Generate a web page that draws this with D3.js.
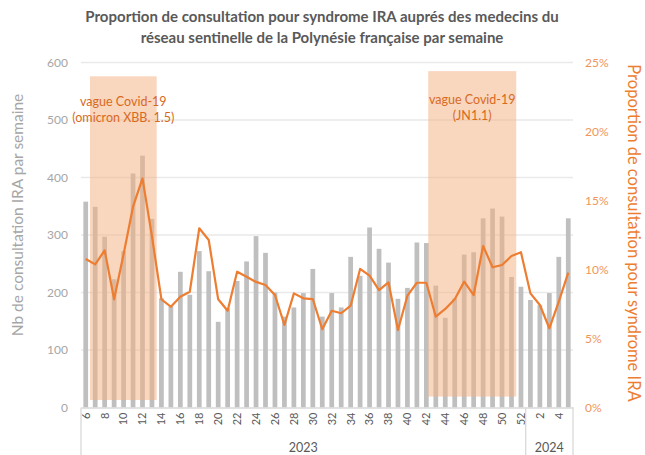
<!DOCTYPE html>
<html>
<head>
<meta charset="utf-8">
<script src="https://cdn.jsdelivr.net/npm/d3@7"></script>
<style>
  html, body { margin: 0; padding: 0; background: #fff; }
  svg { display: block; }
  text { font-family: Lato, "Open Sans", sans-serif; }
</style>
</head>
<body>
<svg id="chart" width="645" height="455"></svg>
<script>
// ---------------- DATA ----------------
const titleLines = [
  "Proportion de consultation pour syndrome IRA auprés des medecins du",
  "réseau sentinelle de la Polynésie française par semaine"
];
const weeks2023 = [6,7,8,9,10,11,12,13,14,15,16,17,18,19,20,21,22,23,24,25,26,27,28,29,30,31,32,33,34,35,36,37,38,39,40,41,42,43,44,45,46,47,48,49,50,51,52];
const weeks2024 = [1,2,3,4,5];
const yearLabels = ["2023", "2024"];

const consultCounts = [
  358, 349, 297, 223, 272, 407, 438, 328, 190, 176, 236, 196, 272, 237, 149, 172, 220, 254, 298, 269,
  200, 158, 174, 199, 241, 158, 199, 174, 262, 229, 313, 276, 252, 189, 208, 287, 286, 212, 156, 190,
  266, 270, 329, 346, 332, 227, 210,
  187, 178, 199, 262, 329
];
const proportionPct = [
  10.76, 10.37, 11.39, 7.84, 11.1, 14.55, 16.6, 12.4, 7.84, 7.3, 8.03, 8.39, 12.99, 12.14, 7.84, 7.01, 9.84, 9.48, 9.1, 8.88,
  8.15, 5.98, 8.27, 7.91, 7.86, 5.67, 7.01, 6.83, 7.38, 10.04, 9.55, 8.51, 9.07, 5.62, 8.1, 9.04, 9.04, 6.58, 7.14, 7.84,
  9.12, 8.15, 11.7, 10.16, 10.33, 10.98, 11.25,
  8.27, 7.43, 5.74, 7.67, 9.77
];
const leftTicks = [0, 100, 200, 300, 400, 500, 600];
const rightTicks = [0, 5, 10, 15, 20, 25];

// highlighted waves: extents in category-index units and left-axis value units
const waveStartIdx = [0.95, 36.7];
const waveEndIdx   = [8.0, 46.0];
const waveTopVal   = [576, 585];
const waveBottomVal= [13, 19];
const waveLabels   = [["vague Covid-19", "(omicron XBB. 1.5)"], ["vague Covid-19", "(JN1.1)"]];
const waveLabelVal = [525, 527];

const leftTitle = "Nb de consultation IRA par semaine";
const rightTitle = "Proportion de consultation pour syndrome IRA";

// ---------------- BUILD ----------------
const cats = [];
weeks2023.forEach(w => cats.push({ key: "2023-" + w, week: w, year: "2023" }));
weeks2024.forEach(w => cats.push({ key: "2024-" + w, week: w, year: "2024" }));
cats.forEach((c, i) => { c.count = consultCounts[i]; c.pct = proportionPct[i]; c.idx = i; });

const W = 645, H = 455;
const m = { top: 62.5, right: 72, bottom: 47.5, left: 81 };
const svg = d3.select("#chart");

const x = d3.scaleBand().domain(cats.map(c => c.key))
  .range([m.left, W - m.right]).paddingInner(0.5).paddingOuter(0.25);
const xIdx = d3.scaleLinear().domain([0, cats.length]).range([m.left, W - m.right]);
const yL = d3.scaleLinear().domain([0, 600]).range([H - m.bottom, m.top]);
const yR = d3.scaleLinear().domain([0, 25]).range([H - m.bottom, m.top]);

const orange = "#ED7D31";
const grayText = "#A6A6A6";

// title
svg.append("g").selectAll("text").data(titleLines).join("text")
  .attr("x", 322).attr("y", (d, i) => 22 + i * 21)
  .attr("text-anchor", "middle")
  .attr("font-size", 15).attr("font-weight", "bold").attr("fill", "#595959")
  .text(d => d);

// gridlines
svg.append("g").selectAll("line").data(leftTicks.filter(t => t > 0)).join("line")
  .attr("x1", m.left).attr("x2", W - m.right)
  .attr("y1", d => yL(d)).attr("y2", d => yL(d))
  .attr("stroke", "#E9E9E9").attr("stroke-width", 1.3);

// bars
svg.append("g").selectAll("rect").data(cats).join("rect")
  .attr("x", d => x(d.key)).attr("width", x.bandwidth())
  .attr("y", d => yL(d.count)).attr("height", d => yL(0) - yL(d.count))
  .attr("fill", "#BFBFBF");

// highlight boxes
const waves = waveStartIdx.map((s, i) => ({ s, e: waveEndIdx[i], top: waveTopVal[i], bot: waveBottomVal[i], lab: waveLabels[i], ly: waveLabelVal[i] }));
svg.append("g").selectAll("rect").data(waves).join("rect")
  .attr("x", d => xIdx(d.s)).attr("width", d => xIdx(d.e) - xIdx(d.s))
  .attr("y", d => yL(d.top)).attr("height", d => yL(d.bot) - yL(d.top))
  .attr("fill", "#F4B183").attr("fill-opacity", 0.52);

// line
const line = d3.line().x(d => x(d.key) + x.bandwidth() / 2).y(d => yR(d.pct));
svg.append("path").datum(cats).attr("d", line)
  .attr("fill", "none").attr("stroke", orange).attr("stroke-width", 2.2)
  .attr("stroke-linejoin", "round");

// wave labels
const wl = svg.append("g").selectAll("text").data(waves).join("text")
  .attr("text-anchor", "middle").attr("font-size", 12.5).attr("fill", "#D86A1E");
wl.each(function(d) {
  const cx = (xIdx(d.s) + xIdx(d.e)) / 2;
  d3.select(this).selectAll("tspan").data(d.lab).join("tspan")
    .attr("x", cx).attr("y", (t, i) => yL(d.ly) + i * 16).text(t => t);
});

// left axis
const axL = svg.append("g").attr("transform", `translate(${m.left},0)`)
  .call(d3.axisLeft(yL).tickValues(leftTicks).tickSize(0).tickPadding(13));
axL.select(".domain").remove();
axL.selectAll("text").attr("fill", grayText).attr("font-size", 12).attr("font-family", "Lato, sans-serif");

// right axis
const axR = svg.append("g").attr("transform", `translate(${W - m.right},0)`)
  .call(d3.axisRight(yR).tickValues(rightTicks).tickFormat(d => d + "%").tickSize(0).tickPadding(12));
axR.select(".domain").remove();
axR.selectAll("text").attr("fill", "#F0955A").attr("font-size", 12).attr("font-family", "Lato, sans-serif");

// bottom axis
const evenCats = cats.filter(c => c.week % 2 === 0).map(c => c.key);
const axB = svg.append("g").attr("transform", `translate(0,${yL(0)})`)
  .call(d3.axisBottom(x).tickValues(evenCats).tickFormat(k => k.split("-")[1]).tickSize(0));
axB.select(".domain").attr("stroke", "#D9D9D9").attr("stroke-width", 1.3);
axB.selectAll("text")
  .attr("transform", "rotate(-90)")
  .attr("x", -5).attr("y", 0).attr("dy", "0.35em")
  .attr("text-anchor", "end")
  .attr("fill", "#595959").attr("font-size", 11).attr("font-family", "Lato, sans-serif");

// year group separators & labels
const half = (x.step() - x.bandwidth()) / 2;
const groups = yearLabels.map(yr => {
  const g = cats.filter(c => c.year === yr);
  return { yr, x0: x(g[0].key) - half, x1: x(g[g.length - 1].key) + x.bandwidth() + half };
});
const seps = [groups[0].x0].concat(groups.map(g => g.x1));
svg.append("g").selectAll("line").data(seps).join("line")
  .attr("x1", d => d).attr("x2", d => d)
  .attr("y1", yL(0)).attr("y2", H)
  .attr("stroke", "#D9D9D9").attr("stroke-width", 1.3);
svg.append("g").selectAll("text").data(groups).join("text")
  .attr("x", d => (d.x0 + d.x1) / 2).attr("y", 452)
  .attr("text-anchor", "middle").attr("font-size", 12.5).attr("fill", "#595959")
  .text(d => d.yr);

// axis titles
svg.append("text")
  .attr("transform", `translate(23,215) rotate(-90)`)
  .attr("text-anchor", "middle").attr("font-size", 15.5).attr("fill", grayText)
  .text(leftTitle);
svg.append("text")
  .attr("transform", `translate(628,233) rotate(90)`)
  .attr("text-anchor", "middle").attr("font-size", 16.5).attr("fill", orange)
  .text(rightTitle);
</script>
</body>
</html>
